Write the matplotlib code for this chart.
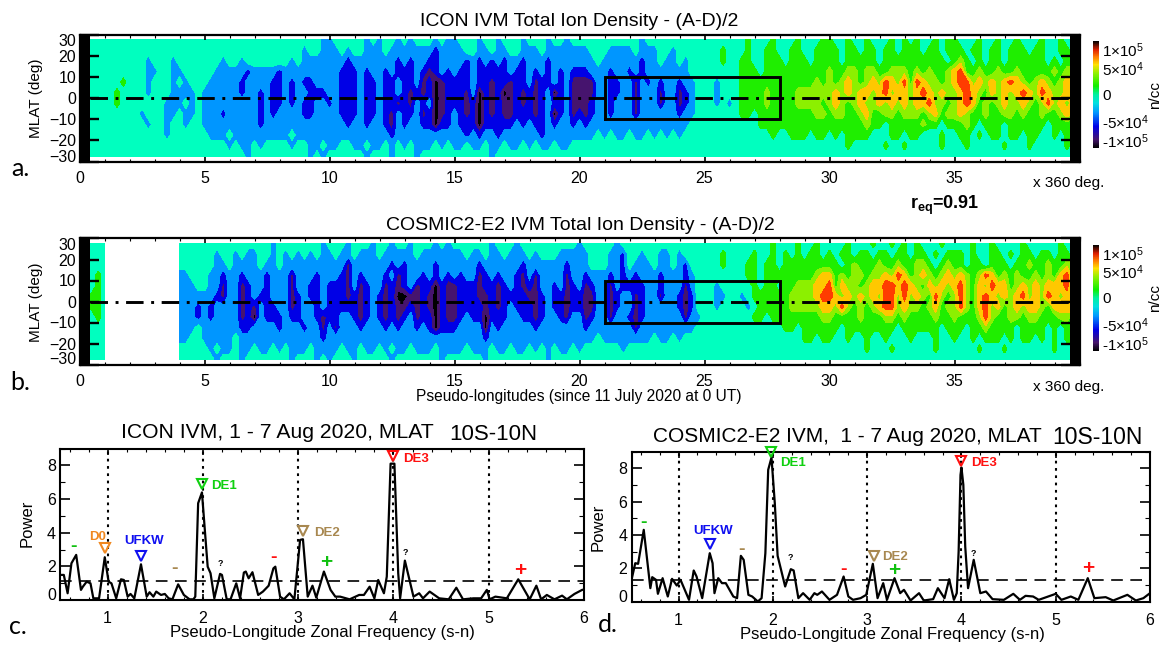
import numpy as np
import matplotlib
matplotlib.use('Agg')
import matplotlib.pyplot as plt
from matplotlib.cm import ScalarMappable
from matplotlib.colors import LinearSegmentedColormap, Normalize
from matplotlib.ticker import MultipleLocator

plt.rcParams['font.family'] = ['Liberation Sans', 'DejaVu Sans']
plt.rcParams['mathtext.default'] = 'regular'

W, H = 1160, 646

# density bands, one char = 0.25 of a pseudo-longitude turn, rows go north to south
lat_rows = [27.5, 22.5, 17.5, 12.5, 7.5, 2.5, -2.5, -7.5, -12.5, -17.5, -22.5, -27.5]
band_values = {'.': 0, 'b': -3, 'B': -5.5, 'P': -7.5, 'K': -9.5, 'g': 2.5, 'l': 4.2, 'y': 6, 'r': 8, '_': np.nan}
band_edges = [-11, -8.5, -6.5, -4.2, -1.5, 1.5, 3.4, 5, 7, 11]
band_colors = ['#000000', '#46146E', '#0000E6', '#0096FF', '#00FFBF', '#1FEE00', '#8CF000', '#FFC800', '#FF3C00']

a_00_05 = ["....................",
           "....................",
           "...........b...b....",
           "...........bb..bb...",
           ".g.....g...b...b.b..",
           "gg....g....b...bbbb.",
           "gg....g.......bbb.b.",
           "..........b...bb.bb.",
           "...........b..b..b..",
           "..............b.....",
           "....................",
           "...................."]
a_05_10 = ["...................b",
           "................b..b",
           "...b..b.......b.bbbb",
           "..bbbbbBbbbbBbbbbbbb",
           ".bbbbbBbbbbBBbBbBBbb",
           "bbbbbbBbbBbBBbBbbBBB",
           "bbbbbbbbbBbBBbBbBBbb",
           "bbbBbbbbbBbBbbbbBBbb",
           "bbbbbbbbbBbbbbbbbbbb",
           ".bbb.bbbbbbbbb.bbbbb",
           "....b.bb.b....b..bb.",
           ".......b.........b.b"]
a_10_15 = ["b.....b.b..b.b...b.b",
           "bb.b..bbb.bbbbbbbBbb",
           "bbbBbbbbbbbBbBbbBBbb",
           "bbBBBbBbbBbBBBbBPBbB",
           "bbBBBbBBbBBbBBbPBKPB",
           "bbBBBbBBbBBbBPBPBKPB",
           "BbBBBbBBbBBPBPbBbKPB",
           "bbBBBbBBbBPbBBbPBKPB",
           "bbbBbbBbbBPbBbbBBKBB",
           "bbbbbbbbbbBbbbbbbbbb",
           "bb..bb.bb.b.b.bbb.b.",
           "......b...b...b....."]
a_15_20 = ["b...b..b...b...b..b.",
           "bb..bb.bb..bbb.bbbbb",
           "bbBbBbBbBbbBbbbBbbbb",
           "bBBbBBBBBbBBbBbBbBbB",
           "BBBbBBPBBPBBbPBBbBbP",
           "BBPbKBPBKPBPBPBbKBbP",
           "BBPBKBPBPPBPBPBbBBbP",
           "bBPBKBPBPPBBBPBbKBbP",
           "bBBBKBBBBBbBbBBbBbbB",
           "bbBbBbbBbbbbbbBbbbbb",
           "bb.bb.bb.bb.b.bb.bb.",
           "......b............."]
a_20_25 = ["..........b.........",
           "bb...bbbb.bbb..b....",
           "bbb.bbbbbbBbb.bb.b..",
           "BBbbbBbbBbBbbbbbbb..",
           "PPPbbBBbbPbBbBbbBbb.",
           "PPPbbBBbbPbbbPbbPBb.",
           "PPBbbBbbbPbbbPbbPBb.",
           "BPBbbBbbbPbbbbbbBbb.",
           "bBbbbbbbbbbbbbbbbb..",
           "bbb.b.bb.bb.b.b.b...",
           "....................",
           "...................."]
a_25_30 = [".......g...g...g...g",
           "...g...g..gg..gg..gg",
           "...g..gg..ggg.ggg.gg",
           "......ggg.gggggggggg",
           "..b...gggggggggggglg",
           "..b...gggglgggglllll",
           "..b.b.gggglggggllllg",
           "......gg.gggggggggll",
           ".........ggggggggggg",
           "...........g..ggg.gg",
           "....................",
           "...................."]
a_30_35 = ["g..g..g...g.g.g..g.g",
           "gg.gg.gg.gg.ggg.gg.g",
           "gg.ggggg.gggggggggg.",
           "lggllgllgglllglglggl",
           "lglylglylrylrgryllgl",
           "lylylyylyrlyylyrylyl",
           "lylglyllylylylyyrllg",
           "gllgglyggllglllglygl",
           "gggggglgg.ggggglgg.g",
           ".g.gggg...gg.gg...g.",
           "...g.....g..g.....g.",
           "...................."]
a_35_40 = ["g...g..g..g...g..g..",
           "gg.gg.gg.ggg.gg..gg.",
           "glg.g.gg.gggggg.g.gg",
           "yrgglgglgglggggglgll",
           "yrrlylylyrylglylglyy",
           "lyrylgylylyrylryllyr",
           "lyryglglyllylglrlyly",
           "lylgglggllglgglgglyl",
           "gglg.ggg.gggggg.gggg",
           ".gg.g.gg.gg.gg..g.g.",
           "..g.....g...g.....g.",
           "...................."]

b_00_05 = [".....___________....",
           ".....___________....",
           ".....___________....",
           "...g.___________bb..",
           "...g.___________bbb.",
           "..gg.___________bbbb",
           "..gg.___________bbbB",
           "...g.___________bbbB",
           ".....___________bbb.",
           ".....___________bb..",
           ".....___________....",
           ".....___________...."]
b_05_10 = ["...........b.......b",
           "..b..b.bb..b.b.b.b.b",
           "..bb.bbbb.bb.bbbbbbb",
           ".bbBbbBbbbBbbbPbbbBb",
           ".bbPbbPBbbBbbbPbbBBb",
           "bbBPbbPBbBBbbbPBbBBb",
           "bBbbbbPBPbBBbbPBbbBb",
           "bBbbbbPBKbBBBbBBbbBP",
           "bbbbbbBBbbbbBbbbBbbP",
           "bbbbb.bbbbbbbbbbbbbB",
           ".b.bb.bb.bb.b.bbb.bb",
           "..b...b.......b...b."]
b_10_15 = ["...b...b..b..b...b.b",
           "b.bb.bbb.bbbbb.bbbbb",
           "bbbPbbbbbbBbBbbbbBbb",
           "bbBPbBbbbBbPBbbBbBbB",
           "BBBPbPBbbPBPBbPBBKBP",
           "BBBPBPBbBPBKKPPBPKBP",
           "BBBBBPBbBPBPPBPBPKBP",
           "BBbbBPBbBPBPBbPBBKBP",
           "bPbbbBbbbBbBbbBbBKBB",
           "bbbbbbbbbbbbbbbbbbbb",
           "bb.bb.bb.b.bb.bbb.bb",
           "b...b.....b.......b."]
b_15_20 = ["......b...b.........",
           "bb.bb.bb.bbb.b...bbb",
           "bbbbBbbbbbbBbbbbbbBb",
           "bBbbPBbBbbBPbPbbbbPb",
           "PBBBPBBPBbBPBPbbBbPB",
           "PBBBPPBPBBBBPPBbBBPB",
           "PBBBBPBPBbBBBPBbBBPB",
           "PBbBBKBBBbbBBPBbbBPb",
           "BbbbbKbBbbbbbBbbbbbb",
           "bbbbbBbbbbbbbbbbbbbb",
           "bb.bbb.bb.bb.b.b.bb.",
           ".....b.........b...."]
b_20_25 = ["b.....b.............",
           "bb...bbB..b..bb.b...",
           "bb...bbB.bbb.bb.bB..",
           "bBbbbBbBbBbbbBbbbBb.",
           "bPBbbPbBBBBbbBbbbPb.",
           "BPPbbPBbbPBbbPbbBPB.",
           "BPPbbPBbbPBbbbbbBPB.",
           "bPBbbPbbBPBbbbbbbPbb",
           "bBbbbbbbbPbbbbbbbbb.",
           "bbb.bbbbbbbb.bb.b...",
           "b......b............",
           "...................."]
b_25_30 = ["...........g...g..g.",
           "...g....g..g.g.g.gg.",
           "...g...gg.gg.ggggggg",
           ".......gg.ggggggggly",
           "..b.....g.gg.gglllyy",
           "..bb..b.ggggggllllyr",
           "..b....b.gggggllllly",
           "........gg.ggggggggl",
           ".............gg.gggg",
           "................gg.g",
           "....................",
           "...................."]
b_30_35 = ["...g...g..g.g.g...g.",
           "g.gg.gg.gg.gg.gg.g.g",
           "gg.glggglgglggllg.gl",
           "yglgllgllylryglylgly",
           "rgyllglyyrryrylgylyl",
           "rylylylylrrlrlylgrlg",
           "ylrlglglyrrlyllglygl",
           "lgggglgggllglgggglgg",
           "gg.gggggggg.gggggg.g",
           "g..g..g..g...g...g..",
           "......g...g......g..",
           "...................."]
b_35_40 = ["...g..g....g.....g..",
           "gg.g..gg.g.gg.gg.gg.",
           "gg.gg.ggg.gglgglggll",
           "lylglryglglgglglgyrl",
           "yrlgylryyglylylyyyrg",
           "lrlgyrylylyrlylrylyr",
           "lrlgyrlyglylyylgyyyr",
           "lggglrlggllgllgggllg",
           "gg.gglgggg.gggg.g.gg",
           "g..g.ggg.g.gg.g.g.gg",
           "....g...g.......g...",
           "...................."]

icon_blocks = [a_00_05, a_05_10, a_10_15, a_15_20, a_20_25, a_25_30, a_30_35, a_35_40]
cosmic_blocks = [b_00_05, b_05_10, b_10_15, b_15_20, b_20_25, b_25_30, b_30_35, b_35_40]

# power spectra
c_freq = [.50, .54, .58, .62, .67, .72, .74, .78, .82, .85, .91, .97, 1.01, 1.04, 1.09, 1.14, 1.17, 1.21, 1.24, 1.28,
          1.35, 1.41, 1.44, 1.48, 1.51, 1.56, 1.60, 1.64, 1.68, 1.74, 1.80, 1.86, 1.90, 1.92, 1.95, 1.99, 2.02, 2.05,
          2.08, 2.12, 2.18, 2.20, 2.25, 2.29, 2.35, 2.39, 2.43, 2.45, 2.48, 2.52, 2.58, 2.63, 2.69, 2.74, 2.76, 2.81,
          2.85, 2.91, 2.96, 3.02, 3.05, 3.10, 3.15, 3.19, 3.27, 3.34, 3.39, 3.44, 3.54, 3.64, 3.69, 3.75, 3.80, 3.84,
          3.90, 3.93, 3.97, 4.01, 4.05, 4.07, 4.12, 4.21, 4.27, 4.31, 4.38, 4.48, 4.58, 4.66, 4.73, 4.84, 4.92, 4.98,
          5.01, 5.07, 5.19, 5.31, 5.43, 5.50, 5.55, 5.61, 5.69, 5.77, 5.82, 5.90, 5.98, 6.00]
c_power = [1.49, 1.49, .40, 2.18, 2.68, .60, .79, 1.09, .99, .10, .10, 2.54, 1.09, .99, .10, 1.23, 1.19, .20, .36, .10,
           2.12, .20, .46, .20, .50, .30, .36, .10, .04, .93, .30, .04, .04, .20, 5.75, 6.39, 4.17, 1.98,
           1.59, .10, 1.55, 1.49, .04, .04, .99, .10, 1.63, 1.69, 1.29, 1.65, .30, .50, .85, 1.88, 1.98, .20,
           .04, .40, .04, 3.57, 3.61, .20, .85, .14, 1.69, .60, .20, .20, .04, .30, .30, .79, .10, 1.19,
           .40, 1.39, 8.10, 8.10, 1.59, .10, 2.34, .20, .40, .10, .50, .10, .04, .73, .04, .10, .10, .60,
           .04, .20, .10, 1.23, .04, .85, .04, .30, .04, .26, .04, .36, .60, .62]
d_freq = [.50, .54, .57, .63, .70, .72, .76, .78, .83, .885, .93, .98, 1.02, 1.11, 1.16, 1.19, 1.25, 1.33, 1.36, 1.38,
          1.42, 1.46, 1.50, 1.58, 1.62, 1.66, 1.69, 1.74, 1.78, 1.84, 1.88, 1.92, 1.95, 1.985, 2.02, 2.05, 2.13, 2.19,
          2.22, 2.27, 2.32, 2.39, 2.44, 2.47, 2.52, 2.60, 2.68, 2.75, 2.80, 2.85, 2.93, 2.99, 3.06, 3.11, 3.17, 3.21,
          3.29, 3.35, 3.39, 3.46, 3.55, 3.60, 3.70, 3.75, 3.82, 3.87, 3.92, 3.95, 3.97, 3.99, 4.00, 4.02, 4.04, 4.07, 4.13, 4.20, 4.26,
          4.33, 4.45, 4.55, 4.62, 4.68, 4.76, 4.82, 5.00, 5.06, 5.16, 5.24, 5.34, 5.41, 5.53, 5.61, 5.76, 5.85, 5.93, 6.00]
d_power = [1.3, 2.3, 2.26, 4.3, .8, 1.46, 1.3, .46, 1.4, .3, 1.36, .96, 1.3, .1, 1.86, 1.5, .2, 2.9, 2.3, .5,
           1.4, 1.1, 1.1, .3, .2, 2.74, 2.5, .4, .3, 0, .2, 2.9, 7.9, 8.64, 5.9, 2.74, .9, 1.94,
           1.86, .2, .5, .1, .5, .4, .6, .1, .4, 1.5, .3, .1, .2, .4, 2.26, .2, 1.1, .1,
           1.4, .5, .7, .06, .5, .06, .14, .8, .2, 1.34, .1, .5, 3, 7.6, 8.04, 7, 3.3, .8, 2.5, .5, .6,
           .14, .1, .46, .1, .34, .3, .1, .46, .1, .3, .1, 1.4, .2, .26, .06, .4, .06, .2, .5]

# (x, y, colour) open triangles, (x, y, text, colour) labels and signs
c_triangles = [(3.99, 8.57, '#FF1010'), (1.99, 6.9, '#10D010'), (3.05, 4.1, '#A88850'), (.97, 3.08, '#F08820'), (1.35, 2.64, '#1010F0')]
c_names = [(4.24, 8.4, 'DE3', '#FF1010'), (2.22, 6.8, 'DE1', '#10D010'), (3.30, 4.0, 'DE2', '#A88850'), (.89, 3.75, 'D0', '#F08820'), (1.38, 3.5, 'UFKW', '#1010F0')]
c_signs = [(.646, 3.2, '-', '#10C010'), (1.70, 1.85, '-', '#A88850'), (2.74, 2.5, '-', '#FF1010'), (3.29, 2.2, '+', '#10C010'), (5.33, 1.75, '+', '#FF1010')]
c_unknown = [(2.18, 2.15), (4.13, 2.8)]
d_triangles = [(1.98, 8.95, '#10D010'), (4.00, 8.46, '#FF1010'), (3.07, 2.74, '#A88850'), (1.33, 3.44, '#1010F0')]
d_names = [(2.21, 8.3, 'DE1', '#10D010'), (4.24, 8.3, 'DE3', '#FF1010'), (3.29, 2.66, 'DE2', '#A88850'), (1.36, 4.2, 'UFKW', '#1010F0')]
d_signs = [(.63, 4.75, '-', '#10C010'), (1.67, 3.15, '-', '#A88850'), (2.75, 1.9, '-', '#FF1010'), (3.29, 1.84, '+', '#10C010'), (5.34, 1.96, '+', '#FF1010')]
d_unknown = [(2.19, 2.62), (4.13, 2.9)]

cbar_ticks = [-1e5, -5e4, 0, 5e4, 1e5]
cbar_labels = ['-1×10$^5$', '-5×10$^4$', '0', '5×10$^4$', '1×10$^5$']
lat_ticks = [-30, -20, -10, 0, 10, 20, 30]

rainbow = LinearSegmentedColormap.from_list('rainbow_k', [
    (0, '#000000'), (.08, '#46146E'), (.2, '#0000E6'), (.33, '#0096FF'), (.42, '#00E0E0'), (.5, '#00F0A0'),
    (.58, '#10EE00'), (.7, '#90F000'), (.78, '#FFE000'), (.85, '#FF8000'), (.92, '#E02000'), (1, '#000000')])


def px_axes(fig, l, t, r, b):
    return fig.add_axes([l / W, 1 - b / H, (r - l) / W, (b - t) / H])


def px_text(fig, x, y, s, **kw):
    kw.setdefault('ha', 'center')
    kw.setdefault('va', 'center')
    fig.text(x / W, 1 - y / H, s, **kw)


def decode(blocks):
    rows = []
    for i in range(len(lat_rows)):
        chars = ''.join(b[i].ljust(20, '.')[:20] for b in blocks)
        rows.append([band_values[c] for c in chars])
    return np.array(rows, dtype=float) * 1e4


def map_panel(fig, t, b, blocks, cbar_t, cbar_b):
    ax = px_axes(fig, 79.5, t, 1079.5, b)
    lon = np.arange(160) * 0.25
    ax.contourf(lon, lat_rows, decode(blocks), levels=np.array(band_edges) * 1e4, colors=band_colors)
    ax.axvspan(0, 0.4, color='k', lw=0, zorder=2)
    ax.axvspan(39.6, 40, color='k', lw=0, zorder=2)
    ax.plot([0.4, 39.6], [0, 0], color='k', lw=2.1, dashes=(6, 2.6, 1, 2.6), dash_capstyle='butt', zorder=3)
    ax.plot([21, 28, 28, 21, 21], [-10, -10, 10, 10, -10], color='k', lw=2.1, solid_joinstyle='miter', zorder=3)
    ax.set_xlim(0, 40)
    ax.set_ylim(-30, 30)
    ax.set_xticks(np.arange(0, 40, 5))
    ax.xaxis.set_minor_locator(MultipleLocator(1))
    ax.set_yticks(lat_ticks)
    ax.tick_params(axis='x', which='major', direction='in', top=True, length=3.5, width=1.2, labelsize=11.5, pad=6.5)
    ax.tick_params(axis='x', which='minor', direction='in', top=True, length=2, width=.8)
    ax.tick_params(axis='y', direction='in', right=True, length=14, width=1.7, labelsize=11.5, pad=2.5)
    labels = ax.get_yticklabels()
    labels[0].set_va('baseline')
    labels[-1].set_va('top')
    for s in ax.spines.values():
        s.set_linewidth(1.6)
    cax = px_axes(fig, 1092.5, cbar_t, 1098.5, cbar_b)
    cb = fig.colorbar(ScalarMappable(Normalize(-1e5, 1e5), rainbow), cax=cax)
    cb.outline.set_visible(False)
    cb.set_ticks(cbar_ticks)
    cb.set_ticklabels(cbar_labels)
    cax.tick_params(length=0, labelsize=11, pad=2.5)
    lab = cax.get_yticklabels()
    lab[0].set_va('baseline')
    lab[-1].set_va('top')
    return ax


def spectrum_panel(fig, l, t, r, b, freq, power, thresh, tris, names, signs, unknown):
    ax = px_axes(fig, l, t, r, b)
    for v in [1, 2, 3, 4, 5]:
        ax.axvline(v, color='k', lw=1.5, dashes=(1.3, 2.2))
    ax.axhline(thresh, color='k', lw=1.2, dashes=(7, 4.5))
    ax.plot(freq, power, color='k', lw=1.6)
    for x, y, col in tris:
        ax.plot([x], [y], marker='v', ms=7.5, mfc='none', mec=col, mew=1.5, clip_on=False, zorder=5)
    for x, y, s, col in names:
        ax.text(x, y, s, color=col, fontsize=9.5, fontweight='bold', ha='center', va='center')
    for x, y, s, col in signs:
        ax.text(x, y, s, color=col, fontsize=15 if s == '+' else 14, fontweight='bold', ha='center', va='center')
    for x, y in unknown:
        ax.text(x, y, '?', color='k', fontsize=6.5, fontweight='bold', ha='center', va='center')
    ax.set_xlim(.5, 6)
    ax.set_ylim(0, 9)
    ax.set_xticks([1, 2, 3, 4, 5, 6])
    ax.xaxis.set_minor_locator(MultipleLocator(.2))
    ax.set_yticks([0, 2, 4, 6, 8])
    ax.yaxis.set_minor_locator(MultipleLocator(1))
    ax.tick_params(axis='x', which='major', direction='in', top=True, length=4, width=1.2, labelsize=11.5, pad=8)
    ax.tick_params(axis='x', which='minor', direction='in', top=True, length=2, width=.8)
    ax.tick_params(axis='y', which='major', direction='in', right=True, length=7, width=1.2, labelsize=11.5, pad=3)
    ax.tick_params(axis='y', which='minor', direction='in', right=True, length=3.5, width=.8)
    ax.get_yticklabels()[0].set_va('baseline')
    for s in ax.spines.values():
        s.set_linewidth(1.5)
    return ax


fig = plt.figure(figsize=(W / 100, H / 100), dpi=100)

map_panel(fig, 34.5, 161.5, icon_blocks, 41, 148)
map_panel(fig, 238.5, 364.5, cosmic_blocks, 245, 351)
spectrum_panel(fig, 60, 448.5, 584, 600, c_freq, c_power, 1.13, c_triangles, c_names, c_signs, c_unknown)
spectrum_panel(fig, 631.5, 451.5, 1150, 601.5, d_freq, d_power, 1.28, d_triangles, d_names, d_signs, d_unknown)

px_text(fig, 579, 21.5, 'ICON IVM Total Ion Density - (A-D)/2', fontsize=14)
px_text(fig, 580, 225, 'COSMIC2-E2 IVM Total Ion Density - (A-D)/2', fontsize=14)
px_text(fig, 36, 98, 'MLAT (deg)', fontsize=11, rotation=90)
px_text(fig, 36, 302, 'MLAT (deg)', fontsize=11, rotation=90)
px_text(fig, 1069, 183, 'x 360 deg.', fontsize=11)
px_text(fig, 1069, 387, 'x 360 deg.', fontsize=11)
px_text(fig, 1155, 95, 'n/cc', fontsize=11, rotation=90)
px_text(fig, 1155, 298, 'n/cc', fontsize=11, rotation=90)
px_text(fig, 945, 205, 'r$_{eq}$=0.91', fontsize=13, fontweight='bold')
px_text(fig, 579, 396, 'Pseudo-longitudes (since 11 July 2020 at 0 UT)', fontsize=11.2)

px_text(fig, 277, 433, 'ICON IVM, 1 - 7 Aug 2020, MLAT', fontsize=15.2)
px_text(fig, 493, 434, '10S-10N', fontsize=16)
px_text(fig, 847, 437, 'COSMIC2-E2 IVM,  1 - 7 Aug 2020, MLAT', fontsize=15)
px_text(fig, 1097, 437, '10S-10N', fontsize=16.5)
px_text(fig, 322, 633, 'Pseudo-Longitude Zonal Frequency (s-n)', fontsize=12)
px_text(fig, 892, 635, 'Pseudo-Longitude Zonal Frequency (s-n)', fontsize=12)
px_text(fig, 27, 523, 'Power', fontsize=12, rotation=90)
px_text(fig, 598.5, 527, 'Power', fontsize=12, rotation=90)

for x, y, s in [(20, 168, 'a.'), (20, 383, 'b.'), (18, 627, 'c.'), (608, 625, 'd.')]:
    px_text(fig, x, y, s, fontsize=18, family=['Lato', 'DejaVu Sans'])

fig.savefig('out.png', dpi=100)
